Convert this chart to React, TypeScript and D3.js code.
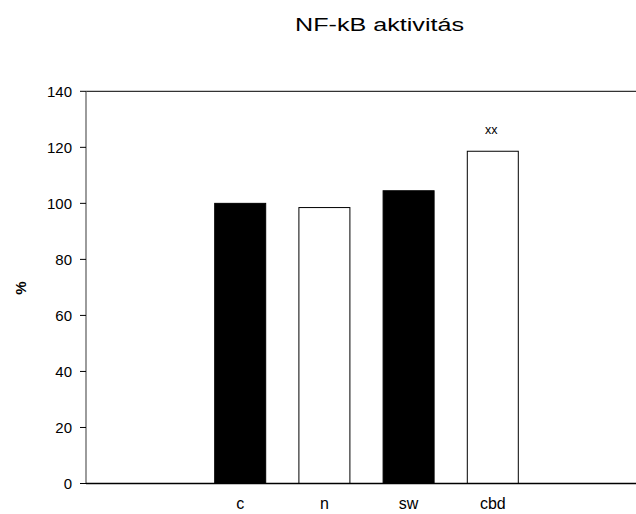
import React from "react";
import * as d3 from "d3";

const categories = ["c", "n", "sw", "cbd"];
const values = [100, 98.5, 104.5, 118.6];
const fills = ["#000000", "#ffffff", "#000000", "#ffffff"];
const annotations = ["", "", "", "xx"];
const yTicks = [0, 20, 40, 60, 80, 100, 120, 140];

const W = 636;
const H = 514;
const left = 86;
const right = 636;
const top = 91.3;
const bottom = 483.5;
const barWidth = 51;

export default function App() {
  const y = d3.scaleLinear().domain([0, 140]).range([bottom, top]);
  const x = d3
    .scaleLinear()
    .domain([0, categories.length - 1])
    .range([240.2, 492.8]);
  const font = "Liberation Sans, Arial, sans-serif";

  return (
    <svg
      width={W}
      height={H}
      style={{ position: "absolute", left: 0, top: 0, background: "#fff" }}
      fontFamily={font}
    >
      <text
        x={295}
        y={31}
        fontSize={17.5}
        textLength={169}
        lengthAdjust="spacingAndGlyphs"
      >
        NF-kB aktivitás
      </text>

      {/* frame top edge */}
      <line x1={left} x2={right} y1={top} y2={top} stroke="#333" strokeWidth={1.2} />

      {/* bars */}
      {values.map((v, i) => (
        <rect
          key={categories[i]}
          x={x(i) - barWidth / 2}
          y={y(v)}
          width={barWidth}
          height={y(0) - y(v)}
          fill={fills[i]}
          stroke="#000"
          strokeWidth={1}
        />
      ))}

      {annotations.map((a, i) =>
        a ? (
          <text key={i} x={x(i) - 1.5} y={y(values[i]) - 17} textAnchor="middle" fontSize={12.5}>
            {a}
          </text>
        ) : null
      )}

      {/* y axis */}
      <line x1={left} x2={left} y1={top} y2={bottom} stroke="#666" strokeWidth={1.3} />
      {yTicks.map((t) => (
        <g key={t}>
          <line x1={left - 6} x2={left} y1={y(t)} y2={y(t)} stroke="#000" strokeWidth={1} />
          <text x={72} y={y(t)} dy="0.35em" textAnchor="end" fontSize={15}>
            {t}
          </text>
        </g>
      ))}

      {/* x axis */}
      <line x1={left} x2={right} y1={bottom} y2={bottom} stroke="#000" strokeWidth={1.3} />
      {categories.map((c, i) => (
        <text key={c} x={x(i)} y={509} textAnchor="middle" fontSize={16}>
          {c}
        </text>
      ))}

      <text
        transform={`translate(26, 288) rotate(-90)`}
        textAnchor="middle"
        fontSize={15}
        fontWeight="bold"
      >
        %
      </text>
    </svg>
  );
}
